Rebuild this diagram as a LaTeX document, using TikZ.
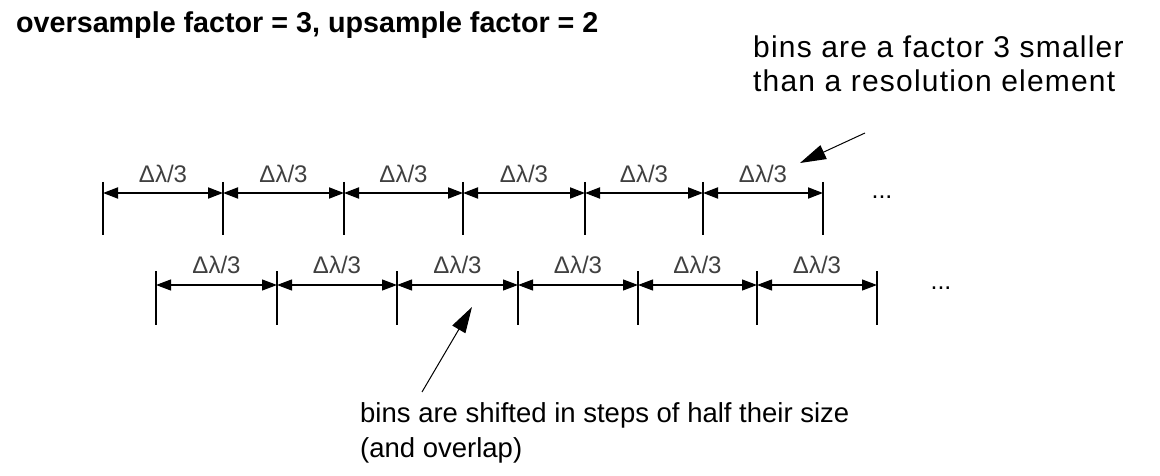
\documentclass[tikz,border=0pt]{standalone}
\usepackage{fontspec}
\setmainfont{Liberation Sans}
\usetikzlibrary{arrows.meta}
\begin{document}
\begin{tikzpicture}[x=1pt,y=-1pt,
  lbl/.style={font=\fontsize{24}{24}\selectfont, text=black!75, inner sep=0},
  tickA/.style={line width=1.5pt},
  tickB/.style={line width=1.1pt},
  binA/.style={line width=1.8pt,{Triangle[length=15pt,width=11pt]}-{Triangle[length=15pt,width=11pt]}},
  binB/.style={line width=1.1pt,{Triangle[length=15pt,width=11pt]}-{Triangle[length=15pt,width=11pt]}},
  note/.style={inner sep=0, anchor=base west, align=left},
  pointer/.style={line width=1pt,-{Triangle[length=26pt,width=15pt]}},
  dots/.style={font=\fontsize{25}{25}\selectfont, inner sep=0, anchor=base}
]
\useasboundingbox (0,0) rectangle (1160,476);
\fill[white] (0,0) rectangle (1160,476);

\node[anchor=base west, inner sep=0, font=\bfseries\fontsize{28.7}{34}\selectfont] (title) at (16,33) {oversample factor = 3, upsample factor = 2};

% top row
\foreach \x [count=\i from 0] in {103,223,344,463,585,703,823} {
  \coordinate (a\i) at (\x,193);
  \draw[tickA] (\x,182) -- (\x,235);
}
\foreach \i [evaluate=\i as \j using int(\i+1)] in {0,...,5} {
  \draw[binA] (a\i) -- node[lbl, yshift=19pt] (la\i) {Δλ/3} (a\j);
}
\node[dots] (dotsA) at (882,199) {...};

% bottom row
\foreach \x [count=\i from 0] in {156,277,397,518,638,757,877} {
  \coordinate (b\i) at (\x,285);
  \draw[tickB] (\x,271) -- (\x,325);
}
\foreach \i [evaluate=\i as \j using int(\i+1)] in {0,...,5} {
  \draw[binB] (b\i) -- node[lbl, yshift=20pt] (lb\i) {Δλ/3} (b\j);
}
\node[dots] (dotsB) at (941,289) {...};

% annotations
\node[note, font=\fontsize{30}{34}\selectfont\addfontfeature{LetterSpace=4}] (ann1) at (753,92) {bins are a factor 3 smaller\\than a resolution element};
\coordinate (p1s) at (865,133);
\coordinate (p1e) at (800,163);
\draw[pointer] (p1s) -- (p1e);

\node[note, font=\fontsize{27.5}{35}\selectfont] (ann2) at (360,457) {bins are shifted in steps of half their size\\(and overlap)};
\coordinate (p2s) at (422,392);
\coordinate (p2e) at (472,307);
\draw[pointer] (p2s) -- (p2e);
\end{tikzpicture}
\end{document}
